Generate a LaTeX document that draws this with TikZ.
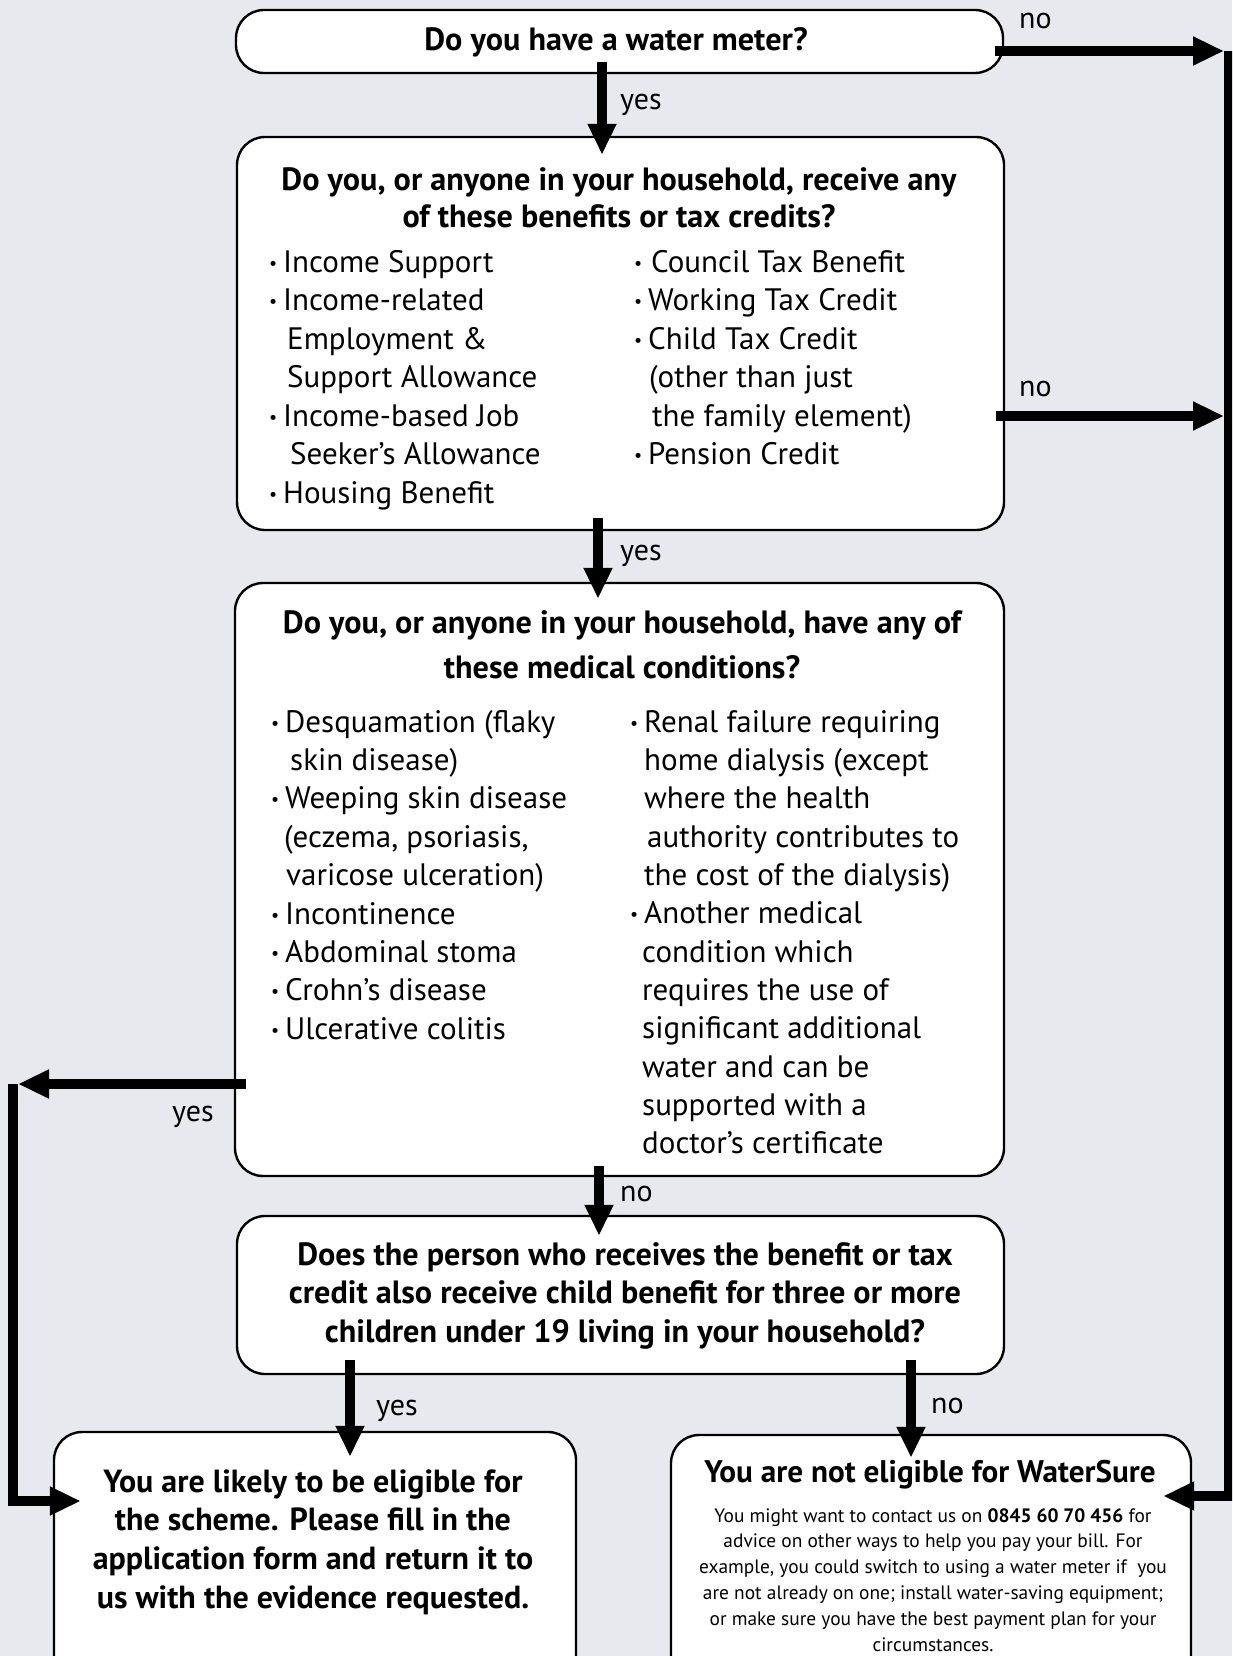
\documentclass[tikz,border=0pt]{standalone}
\usepackage{fontspec}
\setmainfont{PT Sans}
\usetikzlibrary{arrows.meta}
\definecolor{bg}{RGB}{232,233,239}
\newcommand\clines[1]{\vtop{\halign{\hfil##\hfil\cr#1\crcr}}}
\newcommand\llines[1]{\vtop{\halign{##\hfil\cr#1\crcr}}}
\newcommand\bul{\makebox[14pt][l]{\raisebox{3pt}{\fontsize{18}{18}\selectfont\textbullet}}}
\tikzset{
  box/.style={draw=black, line width=2.4pt, fill=white, rounded corners=28pt, inner sep=0pt},
  arr/.style={line width=10pt, line join=miter, -{Triangle[length=31pt,width=27pt]}},
  lbl/.style={font=\fontsize{30}{30}\selectfont, anchor=base west, inner sep=0pt},
  ctext/.style={inner sep=0pt, anchor=base},
  ltext/.style={inner sep=0pt, anchor=base west},
}
\begin{document}
\begin{tikzpicture}[x=1pt,y=-1pt]
\useasboundingbox (0,0) rectangle (1232,1656);
\clip (0,0) rectangle (1232,1656);
\fill[bg] (0,0) rectangle (1232,1656);
% boxes
\node[box, minimum width=767pt, minimum height=63pt] (b1) at (619.5,41.5) {};
\node[box, minimum width=767pt, minimum height=393pt] (b2) at (620.5,333.5) {};
\node[box, minimum width=769pt, minimum height=593pt] (b3) at (619.5,879.5) {};
\node[box, minimum width=767pt, minimum height=158pt] (b4) at (620.5,1295) {};
\node[box, minimum width=522pt, minimum height=258pt] (b5) at (315,1561) {};
\node[box, minimum width=520pt, minimum height=255pt] (b6) at (931,1562.5) {};
% texts
\node[ctext, font=\bfseries\fontsize{32.2}{37}\selectfont] (t1) at (616,51) {Do you have a water meter?};
\node[ctext, font=\bfseries\fontsize{32.2}{37}\selectfont] (t2) at (619,190) {\clines{Do you, or anyone in your household, receive any\cr of these benefits or tax credits?}};
\node[ltext, font=\fontsize{31}{38.5}\selectfont] (t2l) at (269,272) {\llines{\bul Income Support\cr \bul Income-related\cr \hskip18pt Employment \&\cr \hskip18pt Support Allowance\cr \bul Income-based Job\cr \hskip21pt Seeker’s Allowance\cr \bul Housing Benefit}};
\node[ltext, font=\fontsize{31}{38.5}\selectfont] (t2r) at (634,272) {\llines{\bul\hskip3pt Council Tax Benefit\cr \bul Working Tax Credit\cr \bul Child Tax Credit\cr \hskip15pt (other than just\cr \hskip18pt the family element)\cr \bul Pension Credit}};
\node[ctext, font=\bfseries\fontsize{32.2}{45}\selectfont] (t3) at (622,633) {\clines{Do you, or anyone in your household, have any of\cr these medical conditions?}};
\node[ltext, font=\fontsize{31}{38.4}\selectfont] (t3l) at (271,732) {\llines{\bul Desquamation (flaky\cr \hskip19pt skin disease)\cr \bul Weeping skin disease\cr \hskip13pt (eczema, psoriasis,\cr \hskip15pt varicose ulceration)\cr \bul Incontinence\cr \bul Abdominal stoma\cr \bul Crohn’s disease\cr \bul Ulcerative colitis}};
\node[ltext, font=\fontsize{31}{38.36}\selectfont] (t3r) at (630,732) {\llines{\bul Renal failure requiring\cr \hskip14pt home dialysis (except\cr \hskip14pt where the health\cr \hskip17pt authority contributes to\cr \hskip14pt the cost of the dialysis)\cr \bul Another medical\cr \hskip12pt condition which\cr \hskip12pt requires the use of\cr \hskip12pt significant additional\cr \hskip12pt water and can be\cr \hskip12pt supported with a\cr \hskip12pt doctor’s certificate}};
\node[ctext, font=\bfseries\fontsize{32.2}{38.5}\selectfont] (t4) at (625,1265) {\clines{Does the person who receives the benefit or tax\cr credit also receive child benefit for three or more\cr children under 19 living in your household?}};
\node[ctext, font=\bfseries\fontsize{32}{38.7}\selectfont] (t5) at (313,1492) {\clines{You are likely to be eligible for\cr the scheme. Please fill in the\cr application form and return it to\cr us with the evidence requested.}};
\node[ctext, font=\bfseries\fontsize{31.2}{31.2}\selectfont] (t6) at (930,1482) {You are not eligible for WaterSure};
\node[ctext, font=\fontsize{19.4}{25.8}\selectfont] (t6b) at (933,1522) {\clines{You might want to contact us on \textbf{0845 60 70 456} for\cr advice on other ways to help you pay your bill. For\cr example, you could switch to using a water meter if \ you\cr are not already on one; install water-saving equipment;\cr or make sure you have the best payment plan for your\cr circumstances.}};
% labels
\node[lbl] (l1) at (620,110) {yes};
\node[lbl] (l2) at (1019,29) {no};
\node[lbl] (l3) at (1019,396) {no};
\node[lbl] (l4) at (620,560) {yes};
\node[lbl] (l5) at (172,1121) {yes};
\node[lbl] (l6) at (620,1201) {no};
\node[lbl] (l7) at (376,1415) {yes};
\node[lbl] (l8) at (931,1413) {no};
% coordinates
\coordinate (rtop) at (1229,51);
\coordinate (rmid) at (1224,416);
\coordinate (ltip) at (18,1084);
\coordinate (ltop) at (13,1084);
% arrows
\draw[arr] ([xshift=-17.5pt,yshift=12pt]b1.south) -- ([xshift=-18.5pt,yshift=-19pt]b2.north);
\draw[arr] ([xshift=-9pt,yshift=-9.5pt]b1.east) -- ([xshift=-5pt]rtop);
\draw[arr] ([xshift=-9pt,yshift=-82.5pt]b2.east) -- (rmid);
\draw[arr] ([xshift=-22.5pt,yshift=13pt]b2.south) -- ([xshift=-21.5pt,yshift=-17pt]b3.north);
\draw[arr] ([xshift=-20.5pt,yshift=11pt]b3.south) -- ([xshift=-21.5pt,yshift=-21pt]b4.north);
\draw[arr] ([xshift=12pt,yshift=-204.5pt]b3.west) -- (ltip);
\draw[arr] (ltop) |- ([xshift=28pt,yshift=60pt]b5.west);
\draw[arr] (rtop) |- ([xshift=-29pt,yshift=66.5pt]b6.east);
\draw[arr] ([xshift=-270.5pt,yshift=15pt]b4.south) -- ([xshift=35pt,yshift=-26pt]b5.north);
\draw[arr] ([xshift=290.5pt,yshift=15pt]b4.south) -- ([xshift=-20pt,yshift=-24pt]b6.north);
\end{tikzpicture}
\end{document}
